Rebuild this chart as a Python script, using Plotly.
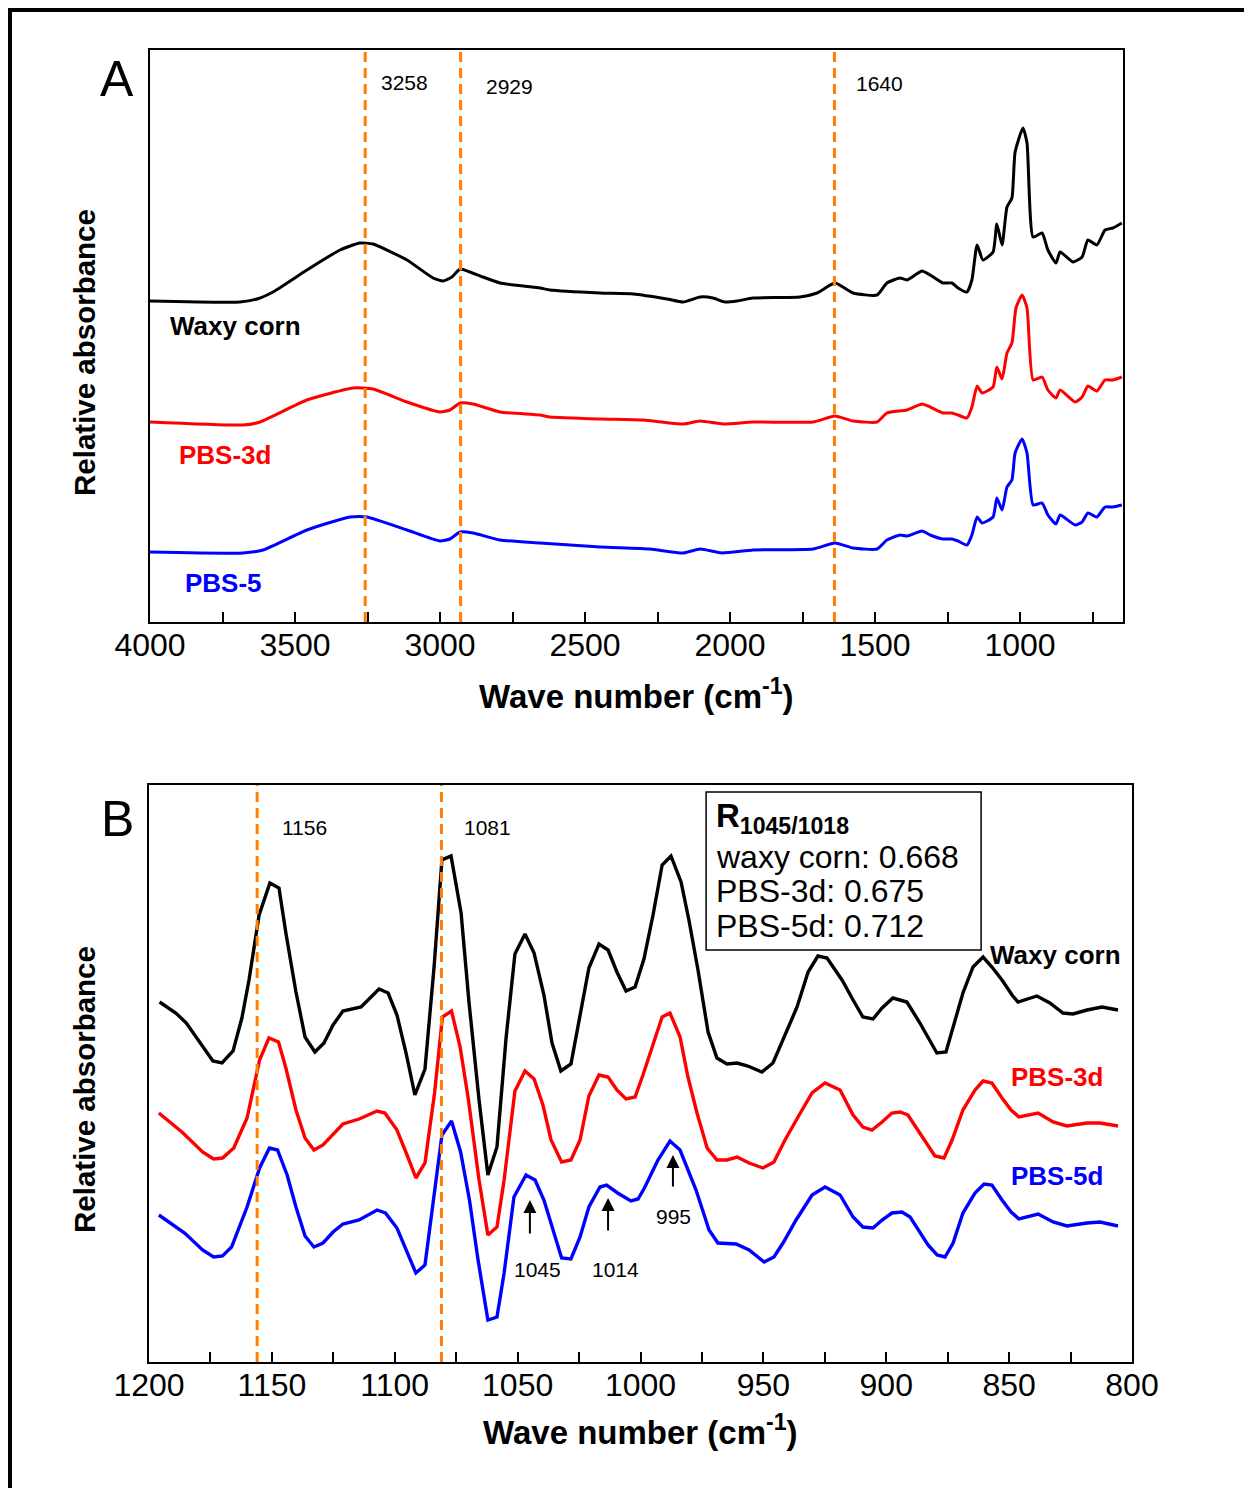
import plotly.graph_objects as go

# ---------------- Panel A: full FTIR spectra (relative absorbance, offset) ----------------
a_waxy_wn = [4000, 3690, 3631, 3576, 3459, 3345, 3276, 3231, 3114, 3024, 2990, 2959, 2931, 2897, 2852,
             2793, 2655, 2621, 2448, 2334, 2217, 2162, 2103, 2059, 2017, 1976, 1921, 1759, 1700, 1638,
             1576, 1493, 1459, 1414, 1390, 1338, 1310, 1266, 1235, 1214, 1183, 1166, 1148, 1128, 1093,
             1080, 1062, 1045, 1028, 1017, 990, 976, 955, 924, 904, 876, 862, 817, 786, 766, 735, 707, 680, 649]
a_waxy_ab = [3.21, 3.20, 3.23, 3.30, 3.52, 3.72, 3.79, 3.78, 3.62, 3.44, 3.41, 3.45, 3.53, 3.50, 3.45,
             3.39, 3.34, 3.32, 3.29, 3.28, 3.23, 3.20, 3.25, 3.24, 3.20, 3.21, 3.24, 3.25, 3.29, 3.39,
             3.29, 3.27, 3.39, 3.44, 3.42, 3.51, 3.47, 3.39, 3.39, 3.34, 3.30, 3.42, 3.77, 3.62, 3.70,
             3.98, 3.77, 4.15, 4.24, 4.70, 4.94, 4.79, 3.85, 3.89, 3.72, 3.59, 3.70, 3.60, 3.65, 3.82, 3.77, 3.92, 3.94, 3.99]

a_pbs3_wn = [4000, 3679, 3621, 3459, 3300, 3231, 3114, 3000, 2966, 2931, 2886, 2793, 2655, 2621, 2448,
             2300, 2162, 2103, 2024, 1921, 1714, 1638, 1576, 1493, 1459, 1390, 1338, 1310, 1266, 1235,
             1214, 1183, 1166, 1148, 1131, 1093, 1080, 1062, 1045, 1028, 1014, 993, 976, 955, 924, 904,
             876, 862, 810, 786, 766, 735, 707, 680, 649]
a_pbs3_ab = [2.00, 1.97, 2.00, 2.22, 2.34, 2.33, 2.20, 2.10, 2.12, 2.19, 2.18, 2.10, 2.07, 2.05, 2.03,
             2.02, 1.98, 2.01, 1.98, 2.00, 2.00, 2.06, 2.01, 2.00, 2.09, 2.12, 2.18, 2.15, 2.09, 2.09,
             2.07, 2.04, 2.15, 2.36, 2.29, 2.35, 2.55, 2.43, 2.69, 2.79, 3.14, 3.27, 3.14, 2.42, 2.45, 2.32,
             2.24, 2.32, 2.20, 2.25, 2.36, 2.31, 2.42, 2.42, 2.45]

a_pbs5_wn = [4000, 3679, 3610, 3459, 3310, 3252, 3114, 3000, 2966, 2931, 2886, 2793, 2655, 2448, 2276,
             2162, 2103, 2028, 1921, 1714, 1638, 1576, 1493, 1459, 1414, 1390, 1338, 1310, 1266, 1235,
             1214, 1183, 1166, 1148, 1131, 1093, 1080, 1062, 1045, 1028, 1017, 993, 976, 955, 924, 904,
             876, 862, 810, 786, 766, 735, 707, 680, 649]
a_pbs5_ab = [0.70, 0.69, 0.72, 0.92, 1.05, 1.05, 0.92, 0.81, 0.83, 0.90, 0.89, 0.82, 0.79, 0.75, 0.73,
             0.69, 0.73, 0.69, 0.72, 0.73, 0.79, 0.74, 0.73, 0.82, 0.87, 0.86, 0.91, 0.87, 0.83, 0.83,
             0.81, 0.77, 0.87, 1.05, 0.99, 1.05, 1.24, 1.12, 1.35, 1.42, 1.69, 1.83, 1.69, 1.17, 1.19, 1.07,
             0.98, 1.07, 0.97, 1.00, 1.09, 1.05, 1.15, 1.15, 1.17]

a_marks = [3258, 2929, 1640]
a_ticks = [4000, 3500, 3000, 2500, 2000, 1500, 1000]

# ---------------- Panel B: 1200-800 cm-1 region ----------------
b_waxy_wn = [1195.7, 1189.1, 1184.8, 1180.5, 1176.8, 1174.0, 1170.3, 1165.8, 1162.2, 1159.3, 1155.2, 1150.8,
             1147.1, 1144.3, 1140.2, 1136.5, 1132.5, 1128.8, 1125.1, 1121.1, 1113.7, 1110.1, 1106.4, 1102.7,
             1099.1, 1095.4, 1091.8, 1087.7, 1084.0, 1080.8, 1077.1, 1073.0, 1069.8, 1065.7, 1062.1, 1058.4,
             1054.7, 1051.1, 1047.0, 1043.3, 1039.3, 1036.0, 1032.4, 1028.3, 1025.0, 1021.0, 1016.9, 1013.2,
             1009.6, 1005.9, 1002.2, 998.6, 994.9, 991.2, 987.6, 983.5, 980.3, 976.6, 972.5, 968.9, 964.8,
             960.7, 956.3, 950.6, 946.1, 941.2, 936.3, 931.8, 927.8, 924.1, 918.0, 913.5, 909.5, 905.4, 901.7,
             897.3, 891.6, 886.3, 879.4, 875.7, 872.8, 868.8, 864.7, 860.6, 857.0, 852.9, 848.8, 846.4, 838.7,
             833.4, 828.1, 824.0, 818.3, 812.2, 805.7]
b_waxy_ab = [3.60, 3.49, 3.39, 3.24, 3.10, 3.01, 2.99, 3.11, 3.44, 3.82, 4.47, 4.79,
             4.74, 4.29, 3.70, 3.25, 3.10, 3.19, 3.37, 3.51, 3.55, 3.64, 3.73, 3.69,
             3.47, 3.09, 2.67, 2.93, 3.95, 5.02, 5.06, 4.49, 3.60, 2.62, 1.87, 2.15,
             3.24, 4.08, 4.28, 4.09, 3.67, 3.19, 2.91, 2.98, 3.40, 3.94, 4.18, 4.12,
             3.90, 3.71, 3.75, 4.03, 4.47, 4.97, 5.06, 4.80, 4.42, 3.92, 3.30, 3.04, 2.98,
             2.99, 2.96, 2.90, 2.99, 3.27, 3.55, 3.90, 4.06, 4.04, 3.82, 3.62, 3.45, 3.43, 3.54,
             3.64, 3.60, 3.39, 3.09, 3.10, 3.34, 3.69, 3.95, 4.05, 3.95, 3.82, 3.67, 3.60, 3.66,
             3.59, 3.49, 3.48, 3.52, 3.55, 3.52]

b_pbs3_wn = [1196.0, 1186.6, 1178.2, 1173.7, 1170.1, 1165.5, 1160.1, 1155.0, 1151.2, 1147.3, 1144.3, 1140.2,
             1136.5, 1132.9, 1129.2, 1124.7, 1121.1, 1114.5, 1107.2, 1104.0, 1099.1, 1095.0, 1091.4, 1087.7,
             1083.8, 1080.6, 1076.9, 1073.4, 1070.0, 1065.7, 1062.1, 1058.4, 1055.5, 1051.1, 1047.0, 1043.3,
             1039.7, 1036.4, 1032.1, 1028.3, 1024.6, 1021.0, 1016.9, 1013.2, 1009.6, 1005.9, 1002.2, 999.0,
             995.3, 991.2, 988.0, 983.9, 980.7, 977.0, 972.9, 968.9, 964.8, 960.7, 955.8, 950.2, 945.7, 941.2,
             935.9, 930.2, 924.9, 918.8, 913.5, 909.5, 905.8, 901.7, 897.7, 894.4, 891.2, 887.1, 883.4, 880.2,
             876.5, 873.2, 868.8, 863.9, 860.6, 857.0, 852.9, 849.2, 846.0, 838.2, 832.1, 826.5, 818.3, 813.0, 805.7]
b_pbs3_ab = [2.49, 2.30, 2.10, 2.03, 2.04, 2.14, 2.44, 3.02, 3.24, 3.20, 2.94, 2.52,
             2.24, 2.12, 2.17, 2.29, 2.38, 2.43, 2.51, 2.49, 2.32, 2.07, 1.84, 1.99,
             2.69, 3.45, 3.51, 3.15, 2.62, 1.82, 1.27, 1.35, 1.82, 2.71, 2.91, 2.83,
             2.57, 2.22, 2.00, 2.02, 2.22, 2.66, 2.87, 2.85, 2.72, 2.63, 2.65, 2.87,
             3.15, 3.45, 3.49, 3.25, 2.85, 2.49, 2.14, 2.02, 2.02, 2.05, 1.99, 1.94, 2.00, 2.22,
             2.45, 2.69, 2.79, 2.72, 2.47, 2.35, 2.32, 2.40, 2.49, 2.50, 2.47, 2.32, 2.19, 2.06,
             2.04, 2.22, 2.52, 2.72, 2.81, 2.79, 2.64, 2.52, 2.45, 2.49, 2.40, 2.36, 2.39, 2.39, 2.36]

b_pbs5_wn = [1196.0, 1185.5, 1178.2, 1173.7, 1170.1, 1166.4, 1160.1, 1155.0, 1151.0, 1147.7, 1143.8, 1140.2,
             1136.5, 1132.9, 1129.2, 1125.1, 1121.1, 1114.5, 1107.2, 1103.8, 1099.1, 1095.0, 1091.4, 1087.7,
             1084.8, 1080.8, 1076.9, 1073.2, 1069.6, 1066.1, 1062.1, 1058.4, 1055.5, 1051.5, 1046.6, 1042.9,
             1039.3, 1035.6, 1032.1, 1028.3, 1024.6, 1021.0, 1016.5, 1013.8, 1009.3, 1003.9, 1001.0, 998.4,
             992.9, 988.0, 983.9, 977.4, 972.1, 968.5, 961.1, 955.8, 949.7, 945.7, 942.0, 936.7, 930.2, 924.9,
             918.8, 913.5, 909.5, 905.4, 901.7, 897.7, 893.6, 890.3, 886.3, 883.0, 879.3, 876.1, 872.8, 868.8,
             863.9, 860.2, 857.0, 852.9, 849.2, 846.0, 838.2, 832.1, 826.5, 818.3, 813.0, 805.7]
b_pbs5_ab = [1.47, 1.29, 1.12, 1.05, 1.06, 1.15, 1.55, 1.94, 2.14, 2.12, 1.87, 1.55,
             1.26, 1.15, 1.19, 1.30, 1.38, 1.42, 1.52, 1.49, 1.34, 1.10, 0.89, 0.97,
             1.49, 2.27, 2.41, 2.10, 1.62, 1.02, 0.42, 0.45, 0.89, 1.65, 1.87, 1.82,
             1.62, 1.32, 1.04, 1.03, 1.25, 1.55, 1.75, 1.77, 1.69, 1.61, 1.63, 1.74,
             2.02, 2.21, 2.12, 1.72, 1.32, 1.19, 1.18, 1.12, 1.00, 1.05, 1.19, 1.42, 1.67, 1.75,
             1.67, 1.45, 1.35, 1.34, 1.42, 1.49, 1.50, 1.45, 1.30, 1.17, 1.07, 1.05, 1.19, 1.49,
             1.69, 1.78, 1.77, 1.62, 1.50, 1.43, 1.48, 1.40, 1.36, 1.39, 1.40, 1.36]

b_marks = [1156, 1081]
b_ticks = [1200, 1150, 1100, 1050, 1000, 950, 900, 850, 800]
b_arrow_wn = [1045, 1013.2, 986.8]
b_arrow_tip = [1.62, 1.64, 2.07]
b_arrow_tail = [1.27, 1.30, 1.74]
b_arrow_labels = ["1045", "1014", "995"]
b_label_wn = [1042.1, 1010.0, 986.4]
b_label_ab = [0.93, 0.93, 1.46]

ratio_lines = ["waxy corn: 0.668", "PBS-3d: 0.675", "PBS-5d: 0.712"]

FONT = "Liberation Sans, Arial, sans-serif"
ORANGE = "#FF8000"
W, H = 1244, 1488


def px_x(p):
    return p / W


def px_y(p):
    return 1 - p / H


fig = go.Figure()

line_w_a = 3.0
line_w_b = 3.4
for wn, ab, col in [(a_waxy_wn, a_waxy_ab, "black"), (a_pbs3_wn, a_pbs3_ab, "#FF0000"),
                    (a_pbs5_wn, a_pbs5_ab, "#0000FF")]:
    fig.add_trace(go.Scatter(x=wn, y=ab, mode="lines",
                             line=dict(color=col, width=line_w_a, shape="spline", smoothing=0.5),
                             xaxis="x", yaxis="y", showlegend=False, hoverinfo="skip"))
for wn, ab, col in [(b_waxy_wn, b_waxy_ab, "black"), (b_pbs3_wn, b_pbs3_ab, "#FF0000"),
                    (b_pbs5_wn, b_pbs5_ab, "#0000FF")]:
    fig.add_trace(go.Scatter(x=wn, y=ab, mode="lines", line=dict(color=col, width=line_w_b),
                             xaxis="x2", yaxis="y2", showlegend=False, hoverinfo="skip"))

shapes = []
for m in a_marks:
    shapes.append(dict(type="line", xref="x", yref="y domain", x0=m, x1=m, y0=0, y1=1,
                       line=dict(color=ORANGE, width=3, dash="10px,6px")))
for m in b_marks:
    shapes.append(dict(type="line", xref="x2", yref="y2 domain", x0=m, x1=m, y0=0, y1=1,
                       line=dict(color=ORANGE, width=3, dash="10px,6px")))
# ratio box in panel B
shapes.append(dict(type="rect", xref="x2", yref="y2", x0=973.3, x1=861.4, y0=4.12, y1=5.70,
                   line=dict(color="black", width=1.5), fillcolor="rgba(0,0,0,0)"))
# outer figure frame (top and left)
shapes.append(dict(type="line", xref="paper", yref="paper", x0=px_x(8), x1=1.0, y0=px_y(10), y1=px_y(10),
                   line=dict(color="black", width=4)))
shapes.append(dict(type="line", xref="paper", yref="paper", x0=px_x(10), x1=px_x(10), y0=0, y1=px_y(8),
                   line=dict(color="black", width=4)))

ann = []


def paper_text(text, xp, yp, size, angle=0):
    ann.append(dict(text=text, x=px_x(xp), y=px_y(yp), xref="paper", yref="paper", showarrow=False,
                    xanchor="center", yanchor="middle", textangle=angle,
                    font=dict(family=FONT, size=size, color="black")))


# panel letters
paper_text("A", 117, 79, 50)
paper_text("B", 117, 819, 50)
# y titles
for yc in [353, 1090]:
    paper_text("<b>Relative absorbance</b>", 84, yc, 29.5, angle=-90)
# x titles
paper_text("<b>Wave number (cm<sup>-1</sup>)</b>", 636, 694, 33)
paper_text("<b>Wave number (cm<sup>-1</sup>)</b>", 640, 1430, 33)

# panel A mark labels
for t, x, y in [("3258", 3124, 5.39), ("2929", 2762, 5.35), ("1640", 1483, 5.38)]:
    ann.append(dict(text=t, x=x, y=y, xref="x", yref="y", showarrow=False, xanchor="center", yanchor="middle",
                    font=dict(family=FONT, size=21, color="black")))
# panel A series labels
for t, x, y, c in [("Waxy corn", 3938, 2.96, "black"), ("PBS-3d", 3907, 1.67, "#FF0000"),
                   ("PBS-5", 3886, 0.39, "#0000FF")]:
    ann.append(dict(text="<b>" + t + "</b>", x=x, y=y, xref="x", yref="y", showarrow=False,
                    xanchor="left", yanchor="middle", font=dict(family=FONT, size=26, color=c)))
# panel B mark labels
for t, x, y in [("1156", 1136.9, 5.35), ("1081", 1062.1, 5.35)]:
    ann.append(dict(text=t, x=x, y=y, xref="x2", yref="y2", showarrow=False, xanchor="center", yanchor="middle",
                    font=dict(family=FONT, size=21, color="black")))
# panel B series labels
for t, x, y, c in [("Waxy corn", 858.6, 4.07, "black"), ("PBS-3d", 850.0, 2.85, "#FF0000"),
                   ("PBS-5d", 850.0, 1.86, "#0000FF")]:
    ann.append(dict(text="<b>" + t + "</b>", x=x, y=y, xref="x2", yref="y2", showarrow=False,
                    xanchor="left", yanchor="middle", font=dict(family=FONT, size=26, color=c)))
# arrows
for wn, tip, tail in zip(b_arrow_wn, b_arrow_tip, b_arrow_tail):
    ann.append(dict(text="", x=wn, y=tip, ax=wn, ay=tail, xref="x2", yref="y2", axref="x2", ayref="y2",
                    showarrow=True, arrowhead=2, arrowsize=1.3, arrowwidth=2, arrowcolor="black"))
for t, x, y in zip(b_arrow_labels, b_label_wn, b_label_ab):
    ann.append(dict(text=t, x=x, y=y, xref="x2", yref="y2", showarrow=False, xanchor="center", yanchor="middle",
                    font=dict(family=FONT, size=21, color="black")))
# ratio box text
ann.append(dict(text="<b>R<sub>1045/1018</sub></b>", x=970.0, y=5.44, xref="x2", yref="y2", showarrow=False,
                xanchor="left", yanchor="middle", font=dict(family=FONT, size=33, color="black")))
for t, y in zip(ratio_lines, [5.05, 4.71, 4.36]):
    ann.append(dict(text=t, x=970.0, y=y, xref="x2", yref="y2", showarrow=False,
                    xanchor="left", yanchor="middle", font=dict(family=FONT, size=32, color="black")))

axis_common = dict(showline=True, linecolor="black", linewidth=2, mirror=True, showgrid=False, zeroline=False,
                   automargin=False)

fig.update_layout(
    width=W, height=H, margin=dict(l=0, r=0, t=0, b=0, pad=0, autoexpand=False),
    autosize=False,
    paper_bgcolor="white", plot_bgcolor="white",
    font=dict(family=FONT, color="black"),
    showlegend=False,
    shapes=shapes, annotations=ann,
    xaxis=dict(domain=[px_x(150), px_x(1123)], anchor="y", range=[4000, 645],
               tickvals=a_ticks, ticks="inside", ticklen=10, tickwidth=1.5, tickcolor="black",
               minor=dict(dtick=250, tick0=0, ticks="inside", ticklen=10, tickwidth=1.5, tickcolor="black"),
               ticklabelstandoff=-6,
               tickfont=dict(family=FONT, size=32, color="black"), **axis_common),
    yaxis=dict(domain=[px_y(622), px_y(50)], anchor="x", range=[0, 5.72], showticklabels=False,
               ticks="", **axis_common),
    xaxis2=dict(domain=[px_x(149), px_x(1132)], anchor="y2", range=[1200, 800],
                tickvals=b_ticks, ticks="inside", ticklen=10, tickwidth=1.5, tickcolor="black",
                minor=dict(dtick=25, tick0=0, ticks="inside", ticklen=10, tickwidth=1.5, tickcolor="black"),
                ticklabelstandoff=-6,
                tickfont=dict(family=FONT, size=32, color="black"), **axis_common),
    yaxis2=dict(domain=[px_y(1362), px_y(785)], anchor="x2", range=[0, 5.77], showticklabels=False,
                ticks="", **axis_common),
)

fig.write_html("out.html")
